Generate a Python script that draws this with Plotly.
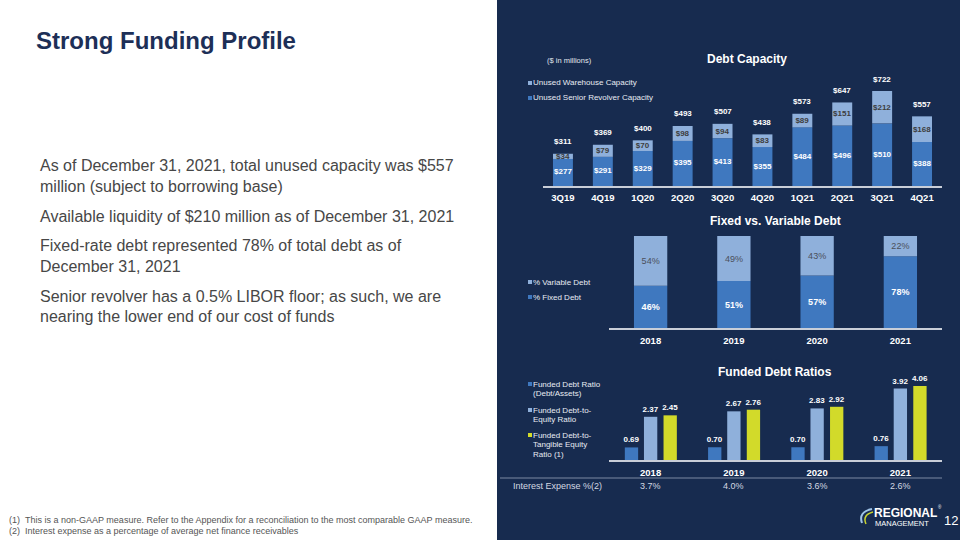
import plotly.graph_objects as go

# ---------------- data ----------------
quarters = ["3Q19", "4Q19", "1Q20", "2Q20", "3Q20", "4Q20", "1Q21", "2Q21", "3Q21", "4Q21"]
senior_revolver = [277, 291, 329, 395, 413, 355, 484, 496, 510, 388]
warehouse = [34, 79, 70, 98, 94, 83, 89, 151, 212, 168]
capacity_total = [311, 369, 400, 493, 507, 438, 573, 647, 722, 557]

years = ["2018", "2019", "2020", "2021"]
fixed_pct = [46, 51, 57, 78]
variable_pct = [54, 49, 43, 22]

funded_debt_ratio = [0.69, 0.70, 0.70, 0.76]
debt_to_equity = [2.37, 2.67, 2.83, 3.92]
debt_to_tangible = [2.45, 2.76, 2.92, 4.06]
interest_expense = ["3.7%", "4.0%", "3.6%", "2.6%"]

bullets = [
    ["As of December 31, 2021, total unused capacity was $557",
     "million (subject to borrowing base)"],
    ["Available liquidity of $210 million as of December 31, 2021"],
    ["Fixed-rate debt represented 78% of total debt as of",
     "December 31, 2021"],
    ["Senior revolver has a 0.5% LIBOR floor; as such, we are",
     "nearing the lower end of our cost of funds"],
]

# ---------------- style ----------------
W, H = 960, 540
def px(x): return x / W
def py(y): return 1 - y / H

NAVY = "#172b4f"
DARK = "#3f78bf"
LIGHT = "#8fb0db"
YELLOW = "#d2da2a"
WHITE = "#ffffff"
GREYTXT = "#3d3d3d"
FONT = "Arial"
CAP_AXIS_MIN = 100  # Debt capacity value axis starts at 100

fig = go.Figure()

# ---- Debt capacity (stacked) ----
fig.add_trace(go.Bar(
    x=quarters, y=senior_revolver, width=0.5, marker=dict(color=DARK, line_width=0),
    name="Unused Senior Revolver Capacity", showlegend=False, xaxis="x", yaxis="y"))
fig.add_trace(go.Bar(
    x=quarters, y=warehouse, base=senior_revolver, width=0.5,
    marker=dict(color=LIGHT, line_width=0),
    text=[f"<b>${v}</b>" for v in warehouse], textposition="inside",
    insidetextanchor="middle", textangle=0, constraintext="none",
    textfont=dict(color=GREYTXT, size=8, family=FONT),
    name="Unused Warehouse Capacity", showlegend=False, xaxis="x", yaxis="y"))
# labels of the revolver segment, centred on its visible part
fig.add_trace(go.Scatter(
    x=quarters, y=[(CAP_AXIS_MIN + v) / 2 for v in senior_revolver], mode="text",
    text=[f"<b>${v}</b>" for v in senior_revolver], textposition="middle center",
    textfont=dict(color=WHITE, size=8, family=FONT), cliponaxis=False,
    showlegend=False, hoverinfo="skip", xaxis="x", yaxis="y"))

# ---- Fixed vs variable ----
fig.add_trace(go.Bar(
    x=years, y=fixed_pct, width=0.4, marker=dict(color=DARK, line_width=0),
    text=[f"<b>{v}%</b>" for v in fixed_pct], textposition="inside",
    insidetextanchor="middle", textangle=0, constraintext="none",
    textfont=dict(color=WHITE, size=9, family=FONT),
    name="% Fixed Debt", showlegend=False, xaxis="x2", yaxis="y2"))
fig.add_trace(go.Bar(
    x=years, y=variable_pct, base=fixed_pct, width=0.4,
    marker=dict(color=LIGHT, line_width=0),
    text=[f"{v}%" for v in variable_pct], textposition="inside",
    insidetextanchor="middle", textangle=0, constraintext="none",
    textfont=dict(color="#4a4f5a", size=9, family=FONT),
    name="% Variable Debt", showlegend=False, xaxis="x2", yaxis="y2"))

# ---- Funded debt ratios (grouped) ----
for vals, col, off, nm in [
    (funded_debt_ratio, DARK, -0.31, "Funded Debt Ratio (Debt/Assets)"),
    (debt_to_equity, LIGHT, -0.08, "Funded Debt-to-Equity Ratio"),
    (debt_to_tangible, YELLOW, 0.155, "Funded Debt-to-Tangible Equity Ratio (1)"),
]:
    fig.add_trace(go.Bar(
        x=years, y=vals, width=0.16, offset=off,
        marker=dict(color=col, line_width=0),
        text=[f"<b>{v:.2f}</b>" for v in vals], textposition="outside",
        textangle=0, constraintext="none", cliponaxis=False,
        textfont=dict(color=WHITE, size=8, family=FONT),
        name=nm, showlegend=False, xaxis="x3", yaxis="y3"))

# ---------------- annotations ----------------
ann = []
def txt(x, y, s, size, color, xanchor="left", yanchor="middle", bold=False, **kw):
    ann.append(dict(x=px(x), y=py(y), xref="paper", yref="paper", text=(f"<b>{s}</b>" if bold else s),
                    showarrow=False, xanchor=xanchor, yanchor=yanchor, borderpad=0,
                    font=dict(size=size, color=color, family=FONT), align="left", **kw))

# totals above the debt capacity bars
for i, t in enumerate(capacity_total):
    ann.append(dict(x=i, y=t, xref="x", yref="y", text=f"<b>${t}</b>", showarrow=False,
                    yanchor="middle", yshift=12, font=dict(size=8, color=WHITE, family=FONT)))

# interest expense row
for i, v in enumerate(interest_expense):
    ann.append(dict(x=i, y=py(486), xref="x3", yref="paper", text=v, showarrow=False,
                    yanchor="middle", font=dict(size=9, color="#d3d8e2", family=FONT)))
txt(512, 486, "Interest Expense %(2)", 9, "#d3d8e2")

# titles
txt(35, 40, "Strong Funding Profile", 24, "#1d2f57", bold=True)
txt(747, 59, "Debt Capacity", 12, WHITE, xanchor="center", bold=True)
txt(569, 61, "($ in millions)", 7.5, "#e3e7ee", xanchor="center")
txt(775, 221, "Fixed vs. Variable Debt", 12, WHITE, xanchor="center", bold=True)
txt(775, 372, "Funded Debt Ratios", 12, WHITE, xanchor="center", bold=True)

# left bullets
yline = 166
for para in bullets:
    for line in para:
        txt(39, yline, line, 16, "#474747")
        yline += 20
    yline += 10

# footnotes
txt(8, 520, "(1)&nbsp;&nbsp;This is a non-GAAP measure. Refer to the Appendix for a reconciliation to the most comparable GAAP measure.", 9, "#555555")
txt(8, 531, "(2)&nbsp;&nbsp;Interest expense as a percentage of average net finance receivables", 9, "#555555")

# custom legends
shapes = []
def legend_item(x, y, color, lines):
    shapes.append(dict(type="rect", xref="paper", yref="paper", x0=px(x), x1=px(x + 4),
                       y0=py(y + 2), y1=py(y - 2), fillcolor=color, line_width=0))
    for i, l in enumerate(lines):
        txt(x + 4, y + i * 9.5, l, 8, "#e8ecf3")

legend_item(528, 83, LIGHT, ["Unused Warehouse Capacity"])
legend_item(528, 98, DARK, ["Unused Senior Revolver Capacity"])
legend_item(528, 282, LIGHT, ["% Variable Debt"])
legend_item(528, 297, DARK, ["% Fixed Debt"])
legend_item(528, 384, DARK, ["Funded Debt Ratio", "(Debt/Assets)"])
legend_item(528, 410, LIGHT, ["Funded Debt-to-", "Equity Ratio"])
legend_item(528, 435, YELLOW, ["Funded Debt-to-", "Tangible Equity", "Ratio (1)"])

# logo and page number
txt(873, 513, "REGIONAL", 12, WHITE, bold=True)
txt(874, 523.5, "MANAGEMENT", 7.5, WHITE)
txt(936.5, 507, "®", 4.5, WHITE)
txt(943, 520, "12", 13, WHITE)

# background panel (below)
shapes.insert(0, dict(type="rect", xref="paper", yref="paper", x0=px(497), x1=1, y0=0, y1=1,
                      fillcolor=NAVY, line_width=0, layer="below"))
# separator line under funded debt ratio chart
shapes.append(dict(type="line", xref="paper", yref="paper", x0=px(500), x1=px(942),
                   y0=py(478), y1=py(478), line=dict(color="#7d8aa3", width=1)))
# logo swoosh
def P(x, y): return f"{px(x)},{py(y)}"
shapes.append(dict(type="path", xref="paper", yref="paper",
                   path=f"M{P(872,509)} Q{P(858,512)} {P(862,523)}",
                   line=dict(color="#9fc3e8", width=2)))
shapes.append(dict(type="path", xref="paper", yref="paper",
                   path=f"M{P(873,512)} Q{P(862,515)} {P(866,524)}",
                   line=dict(color="#c9d430", width=1.5)))

axis_common = dict(type="category", showline=True, linecolor="#c9ced8", linewidth=1.5,
                   ticks="", showgrid=False, zeroline=False, fixedrange=True,
                   tickfont=dict(color=WHITE, size=9.5, family=FONT, weight="bold"))

fig.update_layout(
    width=W, height=H, margin=dict(l=0, r=0, t=0, b=0),
    paper_bgcolor="white", plot_bgcolor="rgba(0,0,0,0)",
    barmode="overlay", showlegend=False,
    xaxis=dict(domain=[px(543), px(942)], anchor="y", range=[-0.5, 9.5], ticklabelstandoff=2, **axis_common),
    yaxis=dict(domain=[py(186), py(91)], range=[CAP_AXIS_MIN, 722], visible=False, fixedrange=True),
    xaxis2=dict(domain=[px(609), px(942)], anchor="y2", range=[-0.5, 3.5], ticklabelstandoff=3, **axis_common),
    yaxis2=dict(domain=[py(328), py(236)], range=[0, 100], visible=False),
    xaxis3=dict(domain=[px(609), px(942)], anchor="y3", range=[-0.5, 3.5], ticklabelstandoff=3, **axis_common),
    yaxis3=dict(domain=[py(460), py(386)], range=[0, 4.06], visible=False),
    annotations=ann, shapes=shapes,
    font=dict(family=FONT),
)

fig.write_html("out.html")
